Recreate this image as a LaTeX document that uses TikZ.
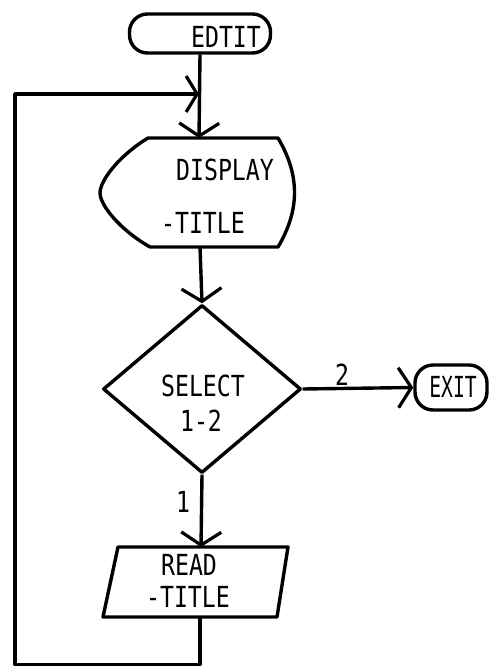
\documentclass[tikz,border=0pt]{standalone}
\usepackage{fontspec}
\usepackage{graphicx}
\newfontfamily\lett[FakeStretch=0.8]{DejaVu Sans Mono}
\usetikzlibrary{arrows.meta,shapes.geometric}
\begin{document}
\begin{tikzpicture}[x=1pt,y=-1pt,
  line width=3.4pt, line join=round,
  lbl/.style={inner sep=0pt, font=\lett\fontsize{29}{34}\selectfont},
  flow/.style={-{Straight Barb[length=13pt,width=40pt,line width=3.2pt]}},
  flowj/.style={-{Straight Barb[length=11pt,width=36pt,line width=3.2pt]}},
  term/.style={draw, rectangle, rounded corners=18pt, inner sep=0pt},
  dec/.style={draw, diamond, inner sep=0pt}
]
\useasboundingbox (0,0) rectangle (494,666);

% terminals
\node[term, minimum width=141pt, minimum height=39pt] (ed) at (200,33.5) {};
\node[lbl] (edt) at (226,37) {EDTIT};
\node[term, minimum width=72pt, minimum height=45pt] (ex) at (451,387.5) {};
\node[lbl] (ext) at (453,387) {\scalebox{0.85}[1]{EXIT}};

% display shape
\coordinate (dTL) at (148,138);
\coordinate (dTR) at (278,138);
\coordinate (dBR) at (278,247);
\coordinate (dBL) at (150,247);
\coordinate (dL) at (100,193);
\coordinate (dT) at (199,138);
\coordinate (dB) at (200,247);
\draw (dTL) -- (dTR) .. controls (300,175) and (300,210) .. (dBR) -- (dBL)
  .. controls (120,230) and (100,205) .. (dL)
  .. controls (100,180) and (120,155) .. (dTL) -- cycle;
\node[lbl] (dt1) at (225,170) {DISPLAY};
\node[lbl] (dt2) at (203,223) {-TITLE};

% decision
\node[dec, minimum width=198pt, minimum height=168pt] (sel) at (202,389) {};
\node[lbl] (st1) at (203,386) {SELECT};
\node[lbl] (st2) at (201,421) {1-2};

% read parallelogram
\coordinate (rTL) at (118,547);
\coordinate (rTR) at (288,547);
\coordinate (rBR) at (277,617);
\coordinate (rBL) at (103,617);
\coordinate (rT) at (201,547);
\coordinate (rB) at (200,617);
\draw (rTL) -- (rTR) -- (rBR) -- (rBL) -- cycle;
\node[lbl] (rt1) at (189,565) {READ};
\node[lbl] (rt2) at (188,597) {-TITLE};

% connectors
\coordinate (join) at (199,94);
\coordinate (loopB) at (200,664.5);
\coordinate (loopL) at (15,94);
\draw[flow] (ed.south) -- (dT);
\draw[flow] (dB) -- (sel.north);
\draw[flow] (sel.south) -- (rT);
\draw[flow] (sel.east) -- (ex.west);
\draw[flowj] (rB) -- (loopB) -| (loopL) -- (join);

% branch labels
\node[lbl] (l1) at (183,502) {1};
\node[lbl] (l2) at (342,375) {2};
\end{tikzpicture}
\end{document}
